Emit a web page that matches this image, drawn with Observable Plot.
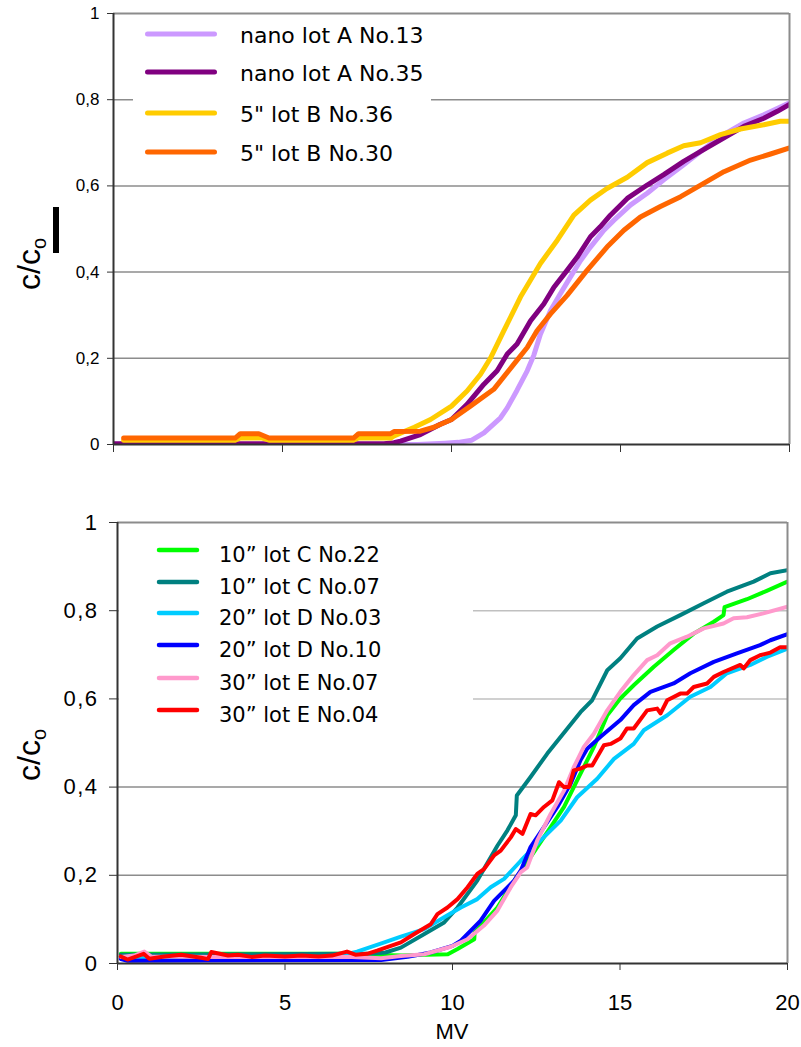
<!DOCTYPE html>
<html><head><meta charset="utf-8">
<script src="https://cdn.jsdelivr.net/npm/d3@7"></script>
<script src="https://cdn.jsdelivr.net/npm/@observablehq/plot@0.6"></script>
<style>
body{margin:0;background:#fff;}
#wrap{position:relative;width:801px;height:1047px;overflow:hidden;background:#fff;font-family:"Liberation Sans",Arial,sans-serif;color:#000;}
#wrap > svg{position:absolute;left:0;overflow:visible;}
#wrap > svg.bot g[aria-label="y-axis tick label"] text{letter-spacing:1.5px;}
.ylab{position:absolute;font-size:32px;white-space:nowrap;transform:translate(-50%,-50%) rotate(-90deg);line-height:1;}
.ylab sub{font-size:20px;vertical-align:-6px;}
.xlab{position:absolute;font-size:22px;line-height:22px;transform:translateX(-50%);white-space:nowrap;}
</style></head><body><div id="wrap"></div>
<script>
// ---------- data ----------
const xTicks = [0, 5, 10, 15, 20];
const yTicks = [0, 0.2, 0.4, 0.6, 0.8, 1];
const gridValues = [0.2, 0.4, 0.6, 0.8];

const topNames = ["nano lot A No.13", "nano lot A No.35", "5\" lot B No.36", "5\" lot B No.30"];
const topColors = ["#cc99ff", "#800080", "#ffcc00", "#ff6600"];

const lotA13 = [[0,0],[8,0],[9,0],[9.8,0.003],[10.2,0.005],[10.6,0.01],[10.96,0.027],[11.45,0.062],[11.65,0.085],[11.94,0.126],[12.24,0.171],[12.44,0.208],[12.63,0.256],[12.93,0.311],[13.22,0.35],[13.52,0.389],[13.82,0.427],[14.11,0.458],[14.51,0.497],[14.8,0.52],[15.3,0.556],[15.79,0.583],[16.28,0.614],[16.87,0.649],[17.37,0.68],[17.96,0.715],[18.65,0.746],[19.24,0.765],[20,0.793]];
const lotA35 = [[0,0.002],[8,0.002],[8.3,0.004],[8.49,0.008],[9.08,0.023],[9.67,0.047],[10,0.058],[10.46,0.093],[10.96,0.14],[11.35,0.171],[11.65,0.21],[11.94,0.233],[12.34,0.287],[12.73,0.326],[13.03,0.365],[13.42,0.404],[13.72,0.435],[14.11,0.482],[14.4,0.505],[14.7,0.532],[15.2,0.571],[15.79,0.602],[16.28,0.626],[16.87,0.657],[17.37,0.68],[17.96,0.707],[18.65,0.738],[19.24,0.757],[19.64,0.773],[20,0.789]];
const lotB36 = [[0.3,0.01],[3.6,0.01],[3.75,0.015],[4.4,0.015],[4.6,0.01],[7.1,0.01],[7.25,0.015],[8.2,0.015],[8.3,0.02],[8.9,0.04],[9.38,0.058],[10,0.089],[10.46,0.124],[10.86,0.163],[11.15,0.2],[11.55,0.264],[12.04,0.342],[12.63,0.42],[13.13,0.474],[13.62,0.532],[14.11,0.567],[14.6,0.594],[15.2,0.62],[15.79,0.654],[16.38,0.676],[16.87,0.693],[17.37,0.7],[17.96,0.719],[18.55,0.732],[19.24,0.742],[19.73,0.75],[20,0.75]];
const lotB30 = [[0.3,0.015],[3.6,0.015],[3.75,0.025],[4.3,0.025],[4.6,0.015],[7.1,0.015],[7.25,0.025],[8.2,0.025],[8.3,0.03],[9.08,0.031],[9.48,0.04],[10,0.058],[10.56,0.089],[11.25,0.128],[11.84,0.186],[12.24,0.225],[12.53,0.264],[12.93,0.303],[13.42,0.346],[14.01,0.404],[14.6,0.458],[15.1,0.497],[15.59,0.528],[16.18,0.552],[16.78,0.575],[17.37,0.602],[18.06,0.633],[18.85,0.66],[19.44,0.674],[20,0.688]];

const botNames = ["10\u201d lot C No.22", "10\u201d lot C No.07", "20\u201d lot D No.03", "20\u201d lot D No.10", "30\u201d lot E No.07", "30\u201d lot E No.04"];
const botColors = ["#00ff00", "#008080", "#00ccff", "#0000ff", "#ff99cc", "#ff0000"];

const lotC22 = [[0.1,0.022],[7,0.022],[7.5,0.02],[8.5,0.018],[9.2,0.02],[9.86,0.021],[10.15,0.033],[10.65,0.055],[10.66,0.07],[11.34,0.127],[11.84,0.188],[12.33,0.241],[12.93,0.309],[13.33,0.355],[13.72,0.415],[14.22,0.491],[14.62,0.563],[15.01,0.601],[15.41,0.631],[16.01,0.673],[16.6,0.711],[17.2,0.748],[17.8,0.775],[18.09,0.79],[18.12,0.808],[18.79,0.826],[19.38,0.845],[20,0.866]];
const lotC07 = [[0.1,0.02],[7,0.022],[7.5,0.022],[8,0.025],[8.46,0.036],[9.16,0.067],[9.75,0.093],[10.15,0.127],[10.74,0.188],[11.34,0.267],[11.64,0.302],[11.89,0.336],[11.92,0.381],[12.33,0.423],[12.83,0.476],[13.43,0.533],[13.82,0.57],[14.17,0.597],[14.62,0.665],[15.01,0.692],[15.51,0.737],[16.11,0.764],[16.8,0.79],[17.5,0.817],[18.19,0.843],[18.99,0.866],[19.49,0.885],[20,0.892]];
const lotD03 = [[0.1,0.015],[6.5,0.015],[7.15,0.027],[7.9,0.046],[8.46,0.061],[9.16,0.078],[9.75,0.105],[10.25,0.127],[10.74,0.146],[11.14,0.173],[11.54,0.192],[12.04,0.233],[12.63,0.279],[13.23,0.324],[13.72,0.377],[14.32,0.419],[14.82,0.464],[15.41,0.498],[15.71,0.529],[16.41,0.563],[17.1,0.605],[17.7,0.627],[18.19,0.658],[18.89,0.677],[19.38,0.695],[20,0.714]];
const lotD10 = [[0.1,0.01],[0.3,0.006],[7,0.008],[7.87,0.008],[8.66,0.015],[9.35,0.025],[10,0.04],[10.25,0.052],[10.84,0.097],[11.24,0.142],[11.84,0.188],[12.04,0.211],[12.33,0.264],[12.73,0.309],[13.13,0.355],[13.53,0.408],[13.82,0.461],[14.02,0.487],[14.42,0.514],[15.01,0.552],[15.41,0.586],[15.91,0.616],[16.6,0.635],[17.1,0.658],[17.8,0.684],[18.49,0.703],[19.18,0.722],[19.49,0.733],[20,0.747]];
const lotE07 = [[0.1,0.015],[0.5,0.018],[0.8,0.027],[1.0,0.016],[3,0.015],[7,0.015],[7.87,0.012],[8.46,0.017],[9.16,0.021],[9.95,0.038],[10.45,0.055],[10.94,0.086],[11.34,0.12],[11.74,0.173],[12.04,0.207],[12.23,0.218],[12.53,0.279],[12.93,0.339],[13.33,0.392],[13.62,0.445],[13.92,0.491],[14.22,0.521],[14.62,0.574],[15.01,0.616],[15.41,0.654],[15.81,0.688],[16.11,0.699],[16.5,0.726],[17.0,0.741],[17.5,0.76],[18.09,0.771],[18.39,0.783],[18.79,0.785],[19.28,0.794],[20,0.809]];
const lotE04 = [[0.1,0.016],[0.3,0.009],[0.78,0.022],[0.95,0.011],[1.4,0.016],[1.9,0.02],[2.5,0.013],[2.7,0.01],[2.8,0.026],[3.3,0.018],[3.6,0.02],[4,0.015],[4.4,0.018],[5,0.016],[5.5,0.018],[6,0.016],[6.4,0.018],[6.85,0.027],[7.1,0.02],[7.45,0.022],[7.75,0.029],[8.46,0.048],[8.86,0.067],[9.35,0.089],[9.55,0.112],[9.85,0.127],[10.15,0.146],[10.45,0.173],[10.74,0.203],[10.94,0.214],[11.24,0.245],[11.44,0.256],[11.74,0.286],[11.89,0.305],[12.09,0.294],[12.33,0.339],[12.48,0.336],[12.73,0.355],[12.98,0.37],[13.18,0.411],[13.33,0.4],[13.48,0.4],[13.62,0.438],[13.82,0.442],[14.02,0.449],[14.17,0.449],[14.52,0.495],[14.72,0.498],[15.01,0.51],[15.21,0.533],[15.41,0.533],[15.81,0.574],[16.11,0.578],[16.21,0.567],[16.41,0.597],[16.8,0.612],[17.0,0.612],[17.2,0.627],[17.6,0.635],[17.8,0.65],[18.09,0.661],[18.59,0.677],[18.69,0.669],[18.89,0.688],[19.18,0.699],[19.49,0.705],[19.78,0.717],[20,0.717]];

const topSeries = [lotA13, lotA35, lotB36, lotB30];
const botSeries = [lotC22, lotC07, lotD03, lotD10, lotE07, lotE04];

// ---------- helpers ----------
const fmt = d => String(d).replace(".", ",");
const toTable = (series, names) => series.flatMap((pts, i) => pts.map(([mv, c]) => ({mv, c, s: names[i]})));
const wrap = document.getElementById("wrap");

function panel({names, colors, series, height, mt, mb, ml, mr, lw, yFont, yPad, ySize, xSize, xLabels, xFont, xPad, gridColor}) {
  return Plot.plot({
    width: 801, height, marginTop: mt, marginBottom: mb, marginLeft: ml, marginRight: mr,
    style: {fontFamily: "'Liberation Sans', Arial, sans-serif", color: "#000", background: "transparent", overflow: "visible"},
    x: {domain: [0, 20]},
    y: {domain: [0, 1]},
    color: {domain: names, range: colors},
    marks: [
      Plot.ruleY(gridValues, {stroke: gridColor, strokeWidth: 1.5}),
      Plot.line(toTable(series, names), {x: "mv", y: "c", z: "s", stroke: "s", strokeWidth: lw, strokeLinejoin: "round", strokeLinecap: "round", clip: true}),
      Plot.ruleY([1], {stroke: "#8c8c8c", strokeWidth: 2}),
      Plot.ruleX([20], {stroke: "#8c8c8c", strokeWidth: 2}),
      Plot.ruleX([0], {stroke: "#333", strokeWidth: 2}),
      Plot.ruleY([0], {stroke: "#333", strokeWidth: 2}),
      Plot.axisY(yTicks, {anchor: "left", tickFormat: fmt, tickSize: ySize, tickPadding: yPad, fontSize: yFont, label: null, stroke: "#333"}),
      Plot.axisX(xTicks, {anchor: "bottom", tickFormat: xLabels ? (d => String(d)) : (() => ""), tickSize: xSize, tickPadding: xPad, fontSize: xFont, label: null, stroke: "#333"})
    ]
  });
}

const topPlot = panel({names: topNames, colors: topColors, series: topSeries, height: 470, mt: 13, mb: 26, ml: 113, mr: 12, lw: 5,
  yFont: 17, yPad: 8, ySize: 6, xSize: 8, xLabels: false, xFont: 17, xPad: 4, gridColor: () => "#8c8c8c"});
topPlot.style.top = "0px";
wrap.appendChild(topPlot);

const botPlot = panel({names: botNames, colors: botColors, series: botSeries, height: 577, mt: 52, mb: 84, ml: 117, mr: 14, lw: 4,
  yFont: 22, yPad: 11, ySize: 8, xSize: 7, xLabels: true, xFont: 22, xPad: 24, gridColor: d => d >= 0.6 ? "#c0c0c0" : "#8c8c8c"});
botPlot.style.top = "470px";
botPlot.classList.add("bot");
wrap.appendChild(botPlot);

// ---------- legends ----------
function legend({left, top, width, height, rows, names, colors, x1, x2, lw, textX, fontSize, baseDy}) {
  const svg = d3.create("svg").attr("width", width).attr("height", height)
    .style("position", "absolute").style("left", left + "px").style("top", top + "px");
  svg.append("rect").attr("width", width).attr("height", height).attr("fill", "#fff");
  names.forEach((n, i) => {
    const y = rows[i] - top;
    svg.append("line").attr("x1", x1 - left).attr("x2", x2 - left).attr("y1", y).attr("y2", y)
      .attr("stroke", colors[i]).attr("stroke-width", lw).attr("stroke-linecap", "round");
    svg.append("text").attr("x", textX - left).attr("y", y + baseDy).text(n)
      .attr("font-family", "'DejaVu Sans', Verdana, sans-serif").attr("font-size", fontSize).attr("fill", "#000");
  });
  wrap.appendChild(svg.node());
}
legend({left: 133, top: 15, width: 298, height: 162, rows: [34, 72, 113, 152], names: topNames, colors: topColors,
  x1: 147.5, x2: 214.5, lw: 5, textX: 240, fontSize: 22, baseDy: 9});
legend({left: 119, top: 524, width: 354, height: 204, rows: [550, 582, 613, 645, 678, 710], names: botNames, colors: botColors,
  x1: 159, x2: 197, lw: 4.5, textX: 219, fontSize: 21, baseDy: 12});

// ---------- axis titles ----------
function ylab(cx, cy) {
  const d = document.createElement("div");
  d.className = "ylab";
  d.style.left = cx + "px"; d.style.top = cy + "px";
  d.innerHTML = "c/c<sub>o</sub>";
  wrap.appendChild(d);
}
ylab(31, 264);
ylab(31, 755);
const bar = document.createElement("div");
Object.assign(bar.style, {position: "absolute", left: "53px", top: "207px", width: "6px", height: "46px", background: "#000"});
wrap.appendChild(bar);
const mv = document.createElement("div");
mv.className = "xlab"; mv.style.left = "452px"; mv.style.top = "1021px"; mv.textContent = "MV";
wrap.appendChild(mv);
</script></body></html>
